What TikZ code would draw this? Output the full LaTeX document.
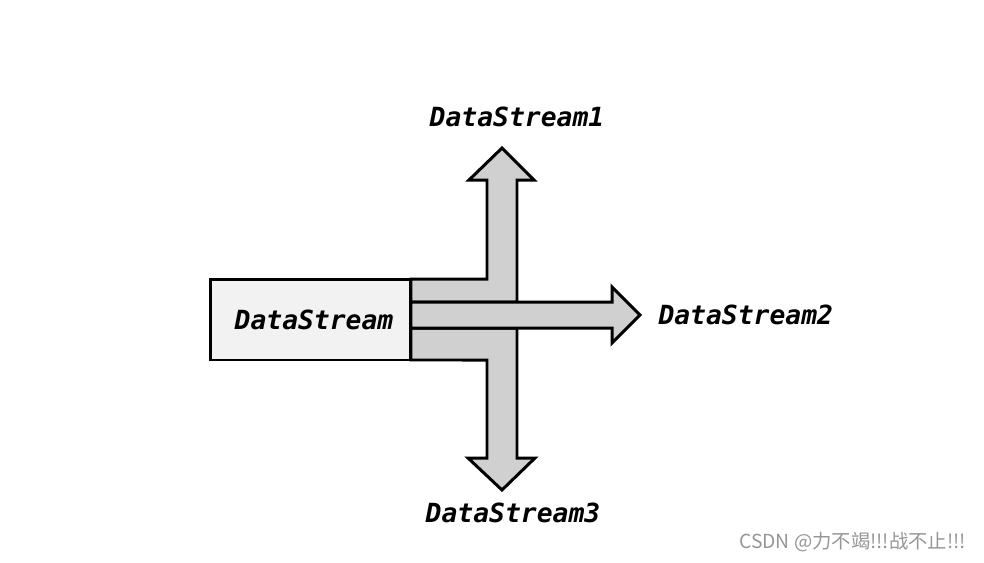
\documentclass[tikz,border=0pt]{standalone}
\usepackage{fontspec}
\usepackage{tikz}
\usetikzlibrary{positioning}
\newfontfamily\streamfont{DejaVu Sans Mono}
\newfontfamily\cjk{Noto Sans CJK SC}
\definecolor{arrowgray}{RGB}{208,208,208}
\definecolor{boxgray}{RGB}{242,242,242}
\definecolor{markgray}{RGB}{150,150,150}

\begin{document}
\begin{tikzpicture}[x=0.02cm,y=-0.02cm,
    streambox/.style={draw, line width=1.7pt, fill=boxgray, minimum width=4.02cm, minimum height=1.62cm, inner sep=0pt, outer sep=0pt},
    streamlabel/.style={font=\streamfont\bfseries\itshape\fontsize{15}{17}\selectfont},
    bigarrow/.style={draw, line width=1.7pt, fill=arrowgray, line join=miter}]
  \useasboundingbox (0,0) rectangle (984,562);

  % Source
  \node[streambox] (src) at (310.5,319.5) {};

  % Branch up
  \draw[bigarrow] (src.north east) -- (487,279) -- (487,180) -- (469,180) -- (502,148)
    coordinate (tipup) -- (534,180) -- (517,180) -- (517,302) -- (411,302) -- cycle;
  % Branch down
  \draw[bigarrow] (411,328) -- (517,328) -- (517,458) -- (535,458) -- (502,490)
    coordinate (tipdown) -- (468,458) -- (487,458) -- (487,360) -- (src.south east) -- cycle;
  % Straight on
  \draw[bigarrow] (411,302) -- (612,302) -- (612,287) -- (640,315) coordinate (tipright)
    -- (612,343) -- (612,328) -- (411,328) -- cycle;

  % Box drawn again on top
  \node[streambox] (srcfront) at (src) {};
  \node[streamlabel] (srctext) at (314,320) {DataStream};

  % Outputs
  \node[streamlabel] (out1) at (517,117) {DataStream1};
  \node[streamlabel, right=7pt of tipright] (out2) {DataStream2};
  \node[streamlabel] (out3) at (513,513) {DataStream3};

  % Watermark
  \node[text=markgray, font=\cjk\fontsize{11}{12}\selectfont, anchor=east] (mark) at (972,542) {CSDN @力不竭!!!战不止!!!};
\end{tikzpicture}
\end{document}
